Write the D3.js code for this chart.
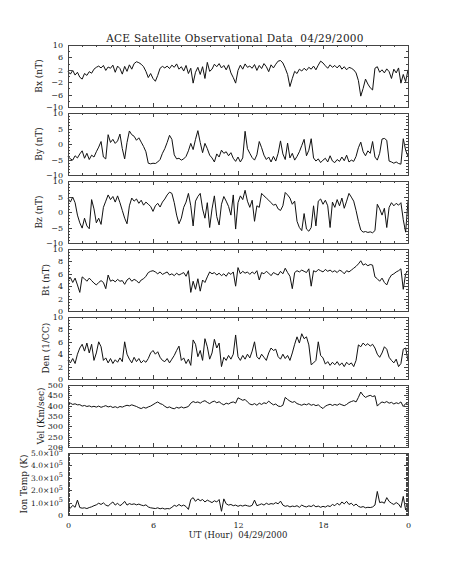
<!DOCTYPE html>
<html>
<head>
<meta charset="utf-8">
<script src="https://cdn.jsdelivr.net/npm/d3@7"></script>
<style>
  html, body { margin:0; padding:0; background:#fff; }
  svg text { font-family:'DejaVu Serif', serif; font-size:8.5px; fill:#222; }
</style>
</head>
<body>
<div id="chart"></div>
<script>
// ACE solar wind, 10 minute samples, 04/29/2000

var titleText = 'ACE Satellite Observational Data\u00a0\u00a004/29/2000';
var xTitleText = 'UT (Hour)\u00a0\u00a004/29/2000';
var xMajor = [0, 6, 12, 18, 24];
var xTickLabels = ['0', '6', '12', '18', '0'];

// hours since 00 UT, one sample every 10 minutes
var hours = d3.range(145).map(function(i){ return i / 6; });

var bx = [1.5,0.6,1.8,0.3,1.2,-0.4, -1.0,0.8,0.2,1.4,0.9,2.2, 2.8,3.2,2.6,3.4,1.8,2.9,
  2.5,3.5,1.2,3.2,2.4,0.6, 3.1,1.5,3.6,2.2,4.0,4.6, 4.3,3.8,3.0,1.5,-0.5,0.8,
  -0.8,-1.7,0.2,2.5,3.1,2.6, 3.2,2.4,3.5,2.8,3.9,2.2, 3.0,1.6,3.4,0.8,2.5,-2.3,
  1.2,2.8,0.5,3.0,-0.8,4.4, 1.5,2.2,3.8,3.0,4.0,2.6, 3.4,2.0,3.6,1.0,-0.5,-2.3,
  1.8,3.5,2.2,3.9,2.8,3.2, 2.5,3.7,1.8,3.4,2.4,4.0, 3.0,1.4,3.6,2.6,3.8,4.8,
  5.0,4.2,2.5,0.5,-3.4,-0.8, 1.5,0.8,2.2,1.6,2.5,1.8, 2.8,2.2,3.2,2.0,3.5,4.8,
  4.2,3.3,2.5,3.6,2.8,3.4, 2.6,3.5,2.2,3.0,2.0,2.8, 2.5,2.0,1.0,-1.5,-6.5,-4.0,
  -1.0,-2.6,-3.8,-4.5,2.5,3.0, 1.2,2.0,1.0,2.3,1.4,-0.8, 2.2,1.0,2.6,-2.3,0.5,-1.8, 2.0];

var by = [-4.0,-4.8,-5.2,-3.8,-4.5,-3.2, -2.2,-4.6,-3.0,-5.0,-3.6,-4.2, -2.5,-1.0,0.8,-4.2,-4.8,3.0,
  0.5,1.5,0.2,1.0,3.2,-1.5, -4.8,0.5,4.2,3.0,2.5,1.2, 2.0,0.6,-0.8,-2.5,-6.2,-6.4,
  -6.2,-6.3,-5.8,-5.0,-3.0,-1.5, 0.5,2.8,1.5,-3.5,-4.8,-4.6, -5.2,-4.8,-4.0,-2.2,0.2,-1.8,
  1.5,4.3,0.5,-2.8,0.2,-1.5, -3.6,-4.5,-5.8,-3.2,-4.2,-2.0, -3.0,-2.5,-3.8,-2.8,-4.6,-5.6,
  -4.2,-5.8,-4.5,4.1,-1.5,-3.0, -4.4,-5.2,-3.5,0.8,-1.2,-3.6, -5.0,-4.2,-5.8,-4.0,-5.5,-3.0,
  1.0,-3.2,-5.0,0.3,-4.5,-3.0, -5.2,-4.0,-2.5,-0.5,1.5,-3.8, -2.0,1.7,-4.5,-5.5,-4.8,-6.0,
  -5.2,-4.6,-5.8,-3.8,-5.5,-6.0, -5.0,-5.6,-4.2,-5.4,-3.6,-5.8, -5.2,-5.6,-4.0,-1.2,0.6,-2.5,
  -3.8,-2.2,-3.0,0.8,-4.2,-5.2, -3.0,1.6,1.8,1.2,-5.5,-5.8, -6.2,-5.8,-6.3,-6.5,1.7,-2.0, -4.0];

var bz = [4.5,3.2,4.8,3.0,-1.0,-3.5, -5.2,-2.0,-4.5,-5.4,4.0,1.0, -3.5,-2.0,-4.0,1.5,3.5,5.5,
  4.0,5.0,3.2,5.2,3.0,0.5, -2.0,-3.8,2.0,4.5,3.5,4.2, 2.8,3.8,2.2,3.2,2.5,1.8,
  0.2,2.0,2.8,1.6,3.2,4.2, 5.5,6.4,6.0,3.0,-1.0,-3.8, -2.0,1.5,3.2,6.0,2.0,-4.5,
  3.5,5.0,6.0,1.0,-2.0,3.0, -5.0,1.0,5.2,-1.5,-4.2,2.5, 5.0,3.5,1.8,-1.0,5.5,-5.5,
  3.0,5.2,4.0,7.0,3.5,1.5, 3.8,-3.0,2.0,1.5,6.0,5.2, 4.5,3.8,3.0,2.2,2.5,1.0,
  0.5,2.0,6.3,5.5,4.5,2.5, 3.5,-3.0,-5.0,-6.0,-0.5,-5.5, -6.2,-5.0,2.0,-4.5,3.5,4.2,
  2.5,3.8,2.0,-5.0,3.2,1.5, 4.0,2.0,4.5,1.2,3.5,6.0, 4.8,3.5,0.5,-3.0,-5.8,-6.5,
  -6.3,-6.6,-6.4,-6.7,-6.0,2.5, 1.0,-1.0,1.2,-5.0,1.5,3.0, 2.0,2.8,2.2,3.0,-2.5,-6.5, 3.5];

var bt = [5.0,5.4,4.6,5.3,4.2,3.0, 5.5,5.2,4.8,5.3,4.9,4.5, 4.2,4.6,4.9,4.6,3.6,5.8,
  4.8,5.0,4.7,5.1,4.8,4.9, 4.3,5.0,5.3,4.8,5.1,4.9, 4.5,5.0,5.2,5.6,6.2,6.4,
  6.5,6.3,6.0,6.3,5.9,6.1, 6.3,5.8,6.0,5.7,6.1,5.8, 6.0,6.2,5.6,6.5,3.0,4.8,
  3.5,5.2,3.2,5.0,4.6,5.5, 6.3,6.0,6.2,5.8,6.1,5.7, 6.0,5.6,6.2,5.9,6.3,4.0,
  7.0,6.0,6.4,6.1,6.3,5.9, 6.3,6.0,6.5,5.0,6.2,6.0, 6.4,6.1,5.7,6.2,6.0,5.8,
  6.4,6.0,6.9,6.2,5.6,3.6, 6.2,6.5,6.3,6.6,6.4,6.2, 6.8,4.0,6.5,6.3,6.7,6.5,
  6.3,6.7,6.4,6.6,6.3,6.5, 6.2,6.6,6.4,6.0,6.5,6.3, 6.6,6.9,7.2,7.6,8.1,7.4,
  7.6,7.3,7.5,7.4,5.5,5.2, 4.8,5.3,4.6,4.2,5.2,5.8, 6.0,6.3,6.5,6.8,3.5,6.0, 6.5];

var den = [3.0,2.6,3.3,2.5,4.0,5.0, 5.6,4.5,5.8,4.2,5.6,3.0, 4.2,6.0,5.2,3.0,3.4,2.6,
  3.3,2.5,3.1,2.7,3.4,2.8, 6.0,4.0,3.2,2.6,3.5,2.8, 3.3,2.6,3.0,2.7,3.3,4.2,
  4.6,4.0,4.4,3.5,3.0,2.8, 3.3,2.6,3.2,3.8,4.6,5.3, 3.0,3.4,2.5,3.2,2.2,6.3,
  5.6,3.6,4.6,3.0,6.5,5.2, 3.2,4.2,6.4,5.0,5.8,2.0, 3.5,3.0,3.8,3.2,4.0,7.1,
  3.6,3.0,3.8,3.2,4.0,3.4, 4.5,6.0,3.6,3.2,4.0,3.5, 3.0,4.2,5.0,4.6,4.8,3.6,
  3.2,4.0,3.3,3.8,3.0,4.2, 5.6,6.8,5.8,7.3,6.5,6.8, 5.5,2.3,2.6,3.0,6.0,3.8,
  3.4,2.4,2.8,2.2,2.7,2.3, 2.8,2.2,2.6,2.0,2.7,2.3, 2.6,2.0,3.0,5.5,5.2,5.8,
  5.4,5.7,5.3,5.6,5.0,4.0, 3.5,4.2,5.2,4.8,3.5,3.0, 2.6,3.2,2.0,2.5,4.8,5.0, 3.0];

var vel = [410,412,406,409,404,405, 398,401,396,399,394,397, 393,398,392,396,400,394,
  397,391,395,390,396,393, 398,402,399,404,400,396, 390,386,392,388,394,398,
  405,412,418,410,406,397, 390,394,388,385,392,388, 394,389,392,396,412,420,
  415,418,412,420,424,416, 410,418,422,414,419,410, 404,412,408,415,418,412,
  438,432,426,430,418,408, 404,410,402,412,406,414, 410,422,412,404,408,398,
  396,402,440,430,422,416, 420,410,406,402,408,404, 410,402,406,400,404,394,
  386,398,403,407,401,406, 402,409,404,400,406,415, 420,424,418,440,466,450,
  440,446,450,444,448,398, 410,418,414,420,412,416, 408,414,410,418,396,410, 415];

// ion temperature in units of 1e5 K
var ionTemp = [0.70,0.55,0.78,0.62,1.20,0.60, 0.55,0.58,0.52,0.60,0.66,0.75, 0.82,0.95,0.85,0.98,0.80,0.72,
  0.90,1.05,0.80,0.95,0.75,0.88, 1.10,0.80,0.92,0.85,0.90,0.82, 0.88,0.80,0.75,0.82,0.65,0.58,
  0.55,0.52,0.58,0.50,0.55,0.48, 0.52,0.50,0.62,0.78,0.70,0.85, 0.72,0.80,0.68,0.45,1.25,1.40,
  1.10,1.30,1.15,1.25,1.05,1.20, 1.10,1.00,1.15,1.05,1.25,0.30, 1.30,0.90,0.80,0.85,0.75,0.80,
  0.70,0.78,0.72,0.80,0.74,0.70, 0.78,1.20,0.75,0.82,0.90,0.80, 0.95,0.85,0.92,0.88,1.00,0.90,
  1.12,0.80,0.70,0.75,0.65,0.72, 0.68,0.75,0.62,0.80,0.70,0.65, 0.74,0.68,0.80,0.66,0.72,0.62,
  0.70,0.64,0.75,0.68,0.85,0.75, 0.95,0.80,1.05,0.90,1.10,0.85, 0.95,0.75,0.88,0.70,0.62,0.68,
  0.58,0.62,0.60,0.65,0.80,1.90, 1.00,1.05,0.95,1.40,1.10,0.95, 0.85,1.00,0.88,0.60,1.50,0.40, 0.70];

function fmtPlain(d){ return d3.format('d')(d).replace('-', '\u2212'); }

var panels = [
  {title:'Bx (nT)', values:bx, domain:[-10,10], major:[-10,-6,-2,2,6,10], minorStep:2},
  {title:'By (nT)', values:by, domain:[-10,10], major:[-10,-5,0,5,10], minorStep:1},
  {title:'Bz (nT)', values:bz, domain:[-10,10], major:[-10,-5,0,5,10], minorStep:1},
  {title:'Bt (nT)', values:bt, domain:[0,10], major:[0,2,4,6,8,10], minorStep:0.5},
  {title:'Den (1/CC)', values:den, domain:[0,10], major:[0,2,4,6,8,10], minorStep:0.5},
  {title:'Vel (Km/sec)', values:vel, domain:[200,500], major:[200,250,300,350,400,450,500], minorStep:10},
  {title:'Ion Temp (K)', values:ionTemp, domain:[0,5], major:[0,1,2,3,4,5], minorStep:0.1, sci:true}
];

var W = 454, H = 567;
var m = {l:68, r:46, t:45};
var w = W - m.l - m.r,
    ph = 62,
    step = 68;

var svg = d3.select('#chart').append('svg')
    .attr('width', W)
    .attr('height', H);

var x = d3.scaleLinear().domain([0,24]).range([0,w]);
var xMinor = d3.range(0, 25, 1);

svg.append('text')
    .attr('x', m.l + w/2 - 3)
    .attr('y', 42)
    .attr('text-anchor','middle')
    .style('font-size','10.5px')
    .style('letter-spacing','0.3px')
    .text(titleText);

var line = d3.line();

panels.forEach(function(p, i){
  var g = svg.append('g')
      .attr('transform','translate(' + m.l + ',' + (m.t + i*step) + ')');

  var y = d3.scaleLinear().domain(p.domain).range([ph,0]);
  var minor = d3.range(p.domain[0], p.domain[1] + p.minorStep/2, p.minorStep);

  //data line
  g.append('path')
      .attr('fill','none')
      .attr('stroke','#111')
      .attr('stroke-width',1)
      .attr('d', line(hours.map(function(h, k){ return [x(h), y(p.values[k])]; })));

  //minor ticks, inward on all four sides
  g.append('g').attr('class','tk').call(d3.axisLeft(y).tickValues(minor).tickSize(-2).tickSizeOuter(0).tickFormat(''));
  g.append('g').attr('class','tk').attr('transform','translate(' + w + ',0)')
      .call(d3.axisRight(y).tickValues(minor).tickSize(-2).tickSizeOuter(0).tickFormat(''));
  g.append('g').attr('class','tk').call(d3.axisTop(x).tickValues(xMinor).tickSize(-2).tickSizeOuter(0).tickFormat(''));
  g.append('g').attr('class','tk').attr('transform','translate(0,' + ph + ')')
      .call(d3.axisBottom(x).tickValues(xMinor).tickSize(-2).tickSizeOuter(0).tickFormat(''));

  //major ticks
  var left = g.append('g').attr('class','tk yl')
      .call(d3.axisLeft(y).tickValues(p.major).tickSize(-4).tickSizeOuter(0).tickPadding(5)
        .tickFormat(p.sci ? function(){ return ''; } : fmtPlain));
  g.append('g').attr('class','tk').attr('transform','translate(' + w + ',0)')
      .call(d3.axisRight(y).tickValues(p.major).tickSize(-4).tickSizeOuter(0).tickFormat(''));
  g.append('g').attr('class','tk').call(d3.axisTop(x).tickValues(xMajor).tickSize(-4).tickSizeOuter(0).tickFormat(''));
  g.append('g').attr('class','tk').attr('transform','translate(0,' + ph + ')')
      .call(d3.axisBottom(x).tickValues(xMajor).tickSize(-4).tickSizeOuter(0).tickPadding(7)
        .tickFormat(function(d, k){ return i === panels.length - 1 ? xTickLabels[k] : ''; }));

  left.selectAll('.tick text').style('font-size','8px');

  if (p.sci) {
    left.selectAll('.tick text').each(function(d){
      var t = d3.select(this);
      if (d === 0) { t.text('0'); return; }
      t.style('font-size','7.5px').text(d.toFixed(1) + '\u00d710');
      t.append('tspan').attr('dy', -3.5).style('font-size','6.5px').text('5');
    });
  }

  //frame
  g.append('rect')
      .attr('width', w)
      .attr('height', ph)
      .attr('fill','none')
      .attr('stroke','#444')
      .attr('stroke-width',1)
      .attr('shape-rendering','crispEdges');

  //y title sits just left of the widest tick label
  var lx = d3.min(left.selectAll('.tick text').nodes(), function(n){ return n.getBBox().x; });
  g.append('text')
      .attr('transform','translate(' + (lx - 4) + ',' + (ph/2) + ') rotate(-90)')
      .attr('text-anchor','middle')
      .style('font-size','9px')
      .text(p.title);
});

svg.selectAll('.tk path').remove();
svg.selectAll('.tk line').attr('stroke','#444').attr('shape-rendering','crispEdges');
svg.selectAll('.tk text').attr('fill','#222').style('font-family',"'DejaVu Serif', serif");
svg.selectAll('.tk:not(.yl) text').style('font-size','8px');

svg.append('text')
    .attr('x', m.l + w/2)
    .attr('y', 538)
    .attr('text-anchor','middle')
    .style('font-size','8.5px')
    .text(xTitleText);
</script>
</body>
</html>
